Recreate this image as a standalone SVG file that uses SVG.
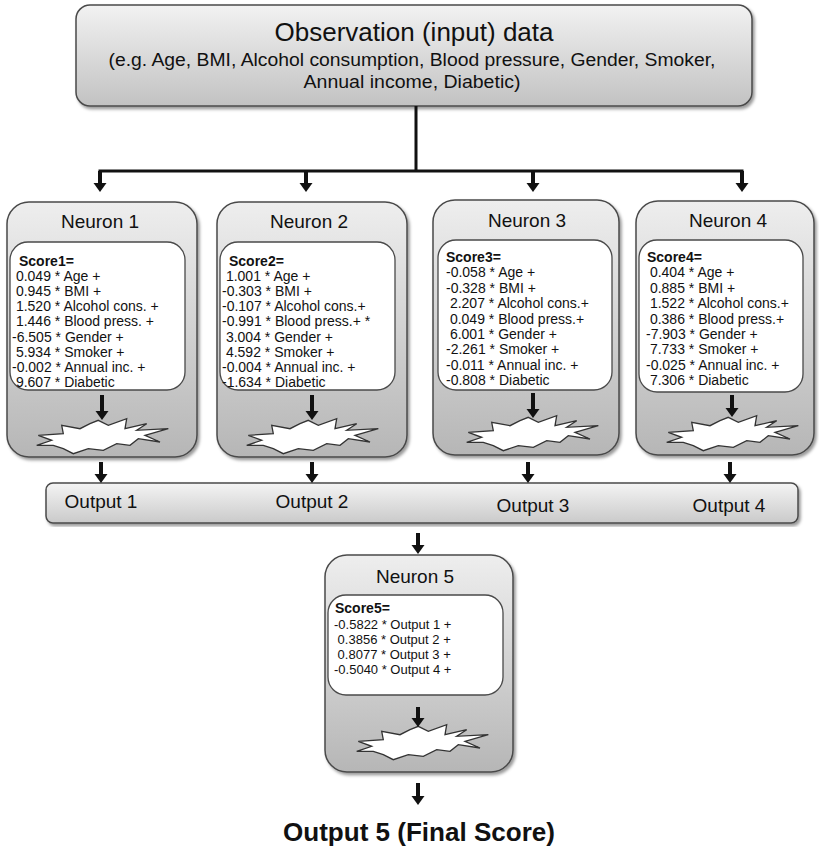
<svg xmlns="http://www.w3.org/2000/svg" width="819" height="849" viewBox="0 0 819 849">
<style>
text{font-family:"Liberation Sans",Arial,sans-serif;fill:#111}
.row{font-size:14px;white-space:pre}
.row5{font-size:13px;white-space:pre}
.sc{font-size:14px;font-weight:bold}
.ttl{font-size:19px;text-anchor:middle}
.out{font-size:19px;text-anchor:middle}
.box{stroke:#4a4a4a;stroke-width:1.5;filter:url(#sh)}
.inner{fill:#fff;stroke:#4a4a4a;stroke-width:1.3}
.star{fill:#fff;stroke:#333;stroke-width:1.3}
.ln{fill:none;stroke:#111;stroke-width:3}
.ar{fill:none;stroke:#111;stroke-width:4;marker-end:url(#ah)}
</style>
<defs>
<linearGradient id="gN" x1="0" y1="0" x2="0" y2="1"><stop offset="0" stop-color="#eeeeee"/><stop offset="1" stop-color="#b6b6b6"/></linearGradient>
<linearGradient id="gT" x1="0" y1="0" x2="0" y2="1"><stop offset="0" stop-color="#f2f2f2"/><stop offset="1" stop-color="#c2c2c2"/></linearGradient>
<linearGradient id="gO" x1="0" y1="0" x2="0" y2="1"><stop offset="0" stop-color="#f4f4f4"/><stop offset="1" stop-color="#cacaca"/></linearGradient>
<filter id="sh" x="-10%" y="-10%" width="120%" height="120%"><feDropShadow dx="2" dy="2.5" stdDeviation="1.8" flood-color="#000" flood-opacity="0.4"/></filter>
<marker id="ah" markerUnits="userSpaceOnUse" markerWidth="14" markerHeight="14" refX="0" refY="0" orient="auto" overflow="visible"><path d="M0,-6.5 L9,0 L0,6.5 Z" fill="#111"/></marker>
<polygon id="star" class="star" points="-1.7,-16.7 8.3,-11.7 26.7,-18.3 25,-8.3 46.7,-13.3 36.7,-6.7 68.3,-8.3 45,-1.7 60,5 38.3,1.7 30,8.3 16.7,6.7 3.3,13.3 -11.7,11.7 -26.7,16.7 -36.7,11.7 -46.7,8.3 -63.3,8.3 -48.3,3.3 -61.7,-1.7 -36.7,-3.3 -38.3,-11.7 -20,-8.3 -10,-13.3"/>
</defs>
<rect width="819" height="849" fill="#fff"/>

<g id="input">
<rect class="box" x="76" y="5" width="676" height="101" rx="14" fill="url(#gT)"/>
<text x="414" y="41" font-size="25" text-anchor="middle" textLength="279" lengthAdjust="spacingAndGlyphs">Observation (input) data</text>
<text x="412" y="66" font-size="17.5" text-anchor="middle" textLength="607" lengthAdjust="spacingAndGlyphs">(e.g. Age, BMI, Alcohol consumption,  Blood pressure, Gender, Smoker,</text>
<text x="412" y="88" font-size="17.5" text-anchor="middle" textLength="217" lengthAdjust="spacingAndGlyphs">Annual  income, Diabetic)</text>
</g>

<g id="neuron1">
<rect class="box" x="7" y="202" width="190" height="255" rx="22" fill="url(#gN)"/>
<text class="ttl" x="100" y="228">Neuron 1</text>
<rect class="inner" x="10" y="242" width="175" height="148" rx="18"/>
<text class="sc" x="19" y="266">Score1=</text>
<text class="row" x="12" y="281.1" xml:space="preserve"> 0.049 * Age +</text>
<text class="row" x="12" y="296.2" xml:space="preserve"> 0.945 * BMI +</text>
<text class="row" x="12" y="311.3" xml:space="preserve"> 1.520 * Alcohol cons. +</text>
<text class="row" x="12" y="326.4" xml:space="preserve"> 1.446 * Blood press. +</text>
<text class="row" x="12" y="341.5" xml:space="preserve">-6.505 * Gender +</text>
<text class="row" x="12" y="356.6" xml:space="preserve"> 5.934 * Smoker +</text>
<text class="row" x="12" y="371.7" xml:space="preserve">-0.002 * Annual inc. +</text>
<text class="row" x="12" y="386.8" xml:space="preserve"> 9.607 * Diabetic</text>
<use href="#star" x="100" y="437"/>
</g>

<g id="neuron2">
<rect class="box" x="217" y="202" width="190" height="255" rx="22" fill="url(#gN)"/>
<text class="ttl" x="309" y="228">Neuron 2</text>
<rect class="inner" x="220" y="242" width="175" height="148" rx="18"/>
<text class="sc" x="229" y="266">Score2=</text>
<text class="row" x="222" y="281.1" xml:space="preserve"> 1.001 * Age +</text>
<text class="row" x="222" y="296.2" xml:space="preserve">-0.303 * BMI +</text>
<text class="row" x="222" y="311.3" xml:space="preserve">-0.107 * Alcohol cons.+</text>
<text class="row" x="222" y="326.4" xml:space="preserve">-0.991 * Blood press.+ *</text>
<text class="row" x="222" y="341.5" xml:space="preserve"> 3.004 * Gender +</text>
<text class="row" x="222" y="356.6" xml:space="preserve"> 4.592 * Smoker +</text>
<text class="row" x="222" y="371.7" xml:space="preserve">-0.004 * Annual inc. +</text>
<text class="row" x="222" y="386.8" xml:space="preserve">-1.634 * Diabetic</text>
<use href="#star" x="310" y="437"/>
</g>

<g id="neuron3">
<rect class="box" x="433" y="200" width="186" height="255" rx="22" fill="url(#gN)"/>
<text class="ttl" x="527" y="227">Neuron 3</text>
<rect class="inner" x="438" y="240" width="174" height="150" rx="18"/>
<text class="sc" x="446" y="262">Score3=</text>
<text class="row" x="446" y="277.4" xml:space="preserve">-0.058 * Age +</text>
<text class="row" x="446" y="292.8" xml:space="preserve">-0.328 * BMI +</text>
<text class="row" x="446" y="308.2" xml:space="preserve"> 2.207 * Alcohol cons.+</text>
<text class="row" x="446" y="323.6" xml:space="preserve"> 0.049 * Blood press.+</text>
<text class="row" x="446" y="339" xml:space="preserve"> 6.001 * Gender +</text>
<text class="row" x="446" y="354.4" xml:space="preserve">-2.261 * Smoker +</text>
<text class="row" x="446" y="369.8" xml:space="preserve">-0.011 * Annual inc. +</text>
<text class="row" x="446" y="385.2" xml:space="preserve">-0.808 * Diabetic</text>
<use href="#star" x="530" y="434"/>
</g>

<g id="neuron4">
<rect class="box" x="636" y="201" width="178" height="254" rx="22" fill="url(#gN)"/>
<text class="ttl" x="728" y="227">Neuron 4</text>
<rect class="inner" x="639" y="240" width="164" height="152" rx="18"/>
<text class="sc" x="647" y="262">Score4=</text>
<text class="row" x="646" y="277.4" xml:space="preserve"> 0.404 * Age +</text>
<text class="row" x="646" y="292.8" xml:space="preserve"> 0.885 * BMI +</text>
<text class="row" x="646" y="308.2" xml:space="preserve"> 1.522 * Alcohol cons.+</text>
<text class="row" x="646" y="323.6" xml:space="preserve"> 0.386 * Blood press.+</text>
<text class="row" x="646" y="339" xml:space="preserve">-7.903 * Gender +</text>
<text class="row" x="646" y="354.4" xml:space="preserve"> 7.733 * Smoker +</text>
<text class="row" x="646" y="369.8" xml:space="preserve">-0.025 * Annual inc. +</text>
<text class="row" x="646" y="385.2" xml:space="preserve"> 7.306 * Diabetic</text>
<use href="#star" x="730" y="434"/>
</g>

<g id="outputs">
<rect class="box" x="46" y="483" width="752" height="40" rx="7" fill="url(#gO)"/>
<text class="out" x="101" y="508">Output 1</text>
<text class="out" x="312" y="508">Output 2</text>
<text class="out" x="533" y="512">Output 3</text>
<text class="out" x="729" y="512">Output 4</text>
</g>

<g id="neuron5">
<rect class="box" x="325" y="555" width="188" height="217" rx="22" fill="url(#gN)"/>
<text class="ttl" x="415" y="583">Neuron 5</text>
<rect class="inner" x="328" y="595" width="175" height="100" rx="18"/>
<text class="sc" x="335" y="613" font-size="13">Score5=</text>
<text class="row5" x="334" y="629" xml:space="preserve">-0.5822 * Output 1 +</text>
<text class="row5" x="334" y="644" xml:space="preserve"> 0.3856 * Output 2 +</text>
<text class="row5" x="334" y="659" xml:space="preserve"> 0.8077 * Output 3 +</text>
<text class="row5" x="334" y="674" xml:space="preserve">-0.5040 * Output 4 +</text>
<use href="#star" x="420" y="743"/>
</g>

<g id="final">
<text x="419" y="841" font-size="25" font-weight="bold" text-anchor="middle" textLength="272" lengthAdjust="spacingAndGlyphs">Output 5 (Final Score)</text>
</g>

<g id="connectors">
<path class="ln" d="M416,106 V171 M98.5,171 H743.5"/>
<path class="ar" d="M100,171 V183"/>
<path class="ar" d="M306,171 V183"/>
<path class="ar" d="M533,171 V183"/>
<path class="ar" d="M742,171 V183"/>
<path class="ar" d="M102,395 V411"/>
<path class="ar" d="M312,395 V411"/>
<path class="ar" d="M533,393 V409"/>
<path class="ar" d="M732,395 V408"/>
<path class="ar" d="M101,462 V474"/>
<path class="ar" d="M312,462 V474"/>
<path class="ar" d="M528,462 V474"/>
<path class="ar" d="M730,462 V474"/>
<path class="ar" d="M418,533 V545"/>
<path class="ar" d="M418,707 V718"/>
<path class="ar" d="M418,783 V796"/>
</g>
</svg>
